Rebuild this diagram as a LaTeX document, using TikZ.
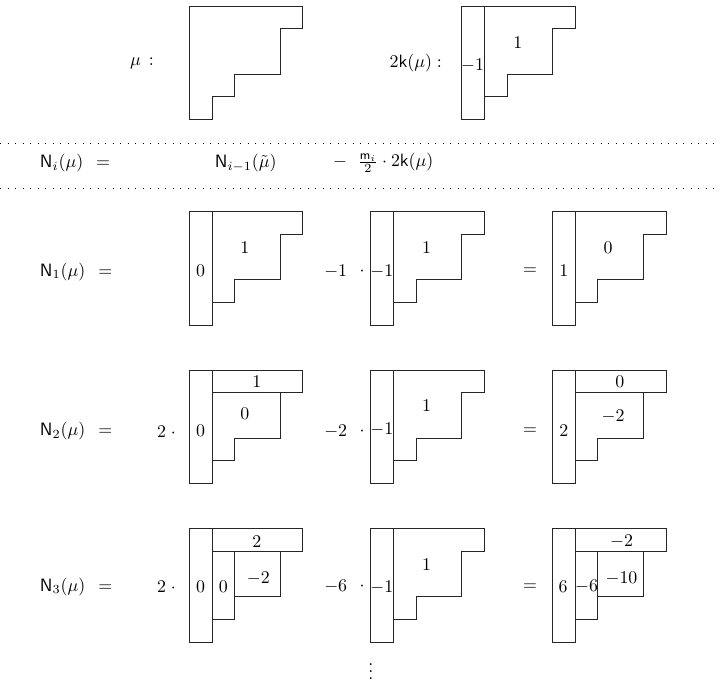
\documentclass[tikz,border=0pt]{standalone}
\usepackage{amsmath}
\tikzset{
  shp/.style={draw=black!85, line width=0.5pt},
  lab/.style={inner sep=0pt, outer sep=0pt},
  dotline/.style={line width=0.55pt, dash pattern=on 0.55pt off 3.65pt},
  youngmu/.pic={
    \draw[shp] (0,0) -- (5,0) -- (5,1) -- (4,1) -- (4,3) -- (2,3) -- (2,4) -- (1,4) -- (1,5) -- (0,5) -- cycle;
  },
  hookA/.pic={
    \draw[shp] (0,0) -- (5,0) -- (5,1) -- (4,1) -- (4,3) -- (2,3) -- (2,4) -- (1,4) -- (1,5) -- (0,5) -- cycle;
    \draw[shp] (1,0) -- (1,5);
  },
  hookB/.pic={
    \draw[shp] (0,0) -- (5,0) -- (5,1) -- (4,1) -- (4,3) -- (2,3) -- (2,4) -- (1,4) -- (1,5) -- (0,5) -- cycle;
    \draw[shp] (1,0) -- (1,5);
    \draw[shp] (1,1) -- (5,1);
  },
  hookC/.pic={
    \draw[shp] (0,0) -- (5,0) -- (5,1) -- (4,1) -- (4,3) -- (2,3) -- (2,4) -- (1,4) -- (1,5) -- (0,5) -- cycle;
    \draw[shp] (1,0) -- (1,5);
    \draw[shp] (1,1) -- (5,1);
    \draw[shp] (2,1) -- (2,4);
  },
}
\begin{document}
\begin{tikzpicture}[x=12.7pt,y=-12.7pt]
\useasboundingbox (0,0) rectangle (31.718,30.044);

% ---------- top line ----------
\node[lab, anchor=east] (mulab) at (6.78,2.78) {$\mu\,:$};
\pic at (8.34,0.27) {youngmu};
\node[lab, anchor=east] (klab) at (19.47,2.78) {$2\mathsf{k}(\mu):$};
\begin{scope}[shift={(20.34,0.27)}]
  \pic {hookA};
  \node[lab] (k0c) at (0.48,2.6) {$-1$};
  \node[lab] (k0i) at (2.47,1.6) {$1$};
\end{scope}

% ---------- header ----------
\coordinate (dl1) at (0,6.31);
\coordinate (dr1) at (31.718,6.31);
\coordinate (dl2) at (0,8.30);
\coordinate (dr2) at (31.718,8.30);
\draw[dotline] (dl1) -- (dr1);
\draw[dotline] (dl2) -- (dr2);
\node[lab, anchor=west] (h1) at (1.76,7.18) {$\mathsf{N}_i(\mu)\hspace{4.5pt}=$};
\node[lab, anchor=west] (h2) at (9.47,7.18) {$\mathsf{N}_{i-1}(\tilde\mu)$};
\node[lab, anchor=west] (h3) at (14.67,7.18) {$-$\hspace{6pt}$\frac{\mathsf{m}_i}{2}\cdot 2\mathsf{k}(\mu)$};

% ---------- row 1 ----------
\node[lab, anchor=west] (r1) at (1.76,11.97) {$\mathsf{N}_1(\mu)\hspace{4.5pt}=$};
\begin{scope}[shift={(8.34,9.32)}]
  \pic {hookA};
  \node[lab] (a1c) at (0.5,2.62) {$0$};
  \node[lab] (a1i) at (2.45,1.58) {$1$};
\end{scope}
\node[lab, anchor=east] (r1m) at (15.29,11.97) {$-1$};
\node[lab] (r1d) at (15.95,11.97) {$\cdot$};
\begin{scope}[shift={(16.34,9.32)}]
  \pic {hookA};
  \node[lab] (b1c) at (0.48,2.62) {$-1$};
  \node[lab] (b1i) at (2.45,1.58) {$1$};
\end{scope}
\node[lab] (r1e) at (23.35,11.97) {$=$};
\begin{scope}[shift={(24.34,9.32)}]
  \pic {hookA};
  \node[lab] (c1c) at (0.5,2.62) {$1$};
  \node[lab] (c1i) at (2.45,1.58) {$0$};
\end{scope}

% ---------- row 2 ----------
\node[lab, anchor=west] (r2) at (1.76,19.0) {$\mathsf{N}_2(\mu)\hspace{4.5pt}=$};
\node[lab, anchor=west] (r2f) at (6.92,19.0) {$2\;\cdot$};
\begin{scope}[shift={(8.34,16.3)}]
  \pic {hookB};
  \node[lab] (a2c) at (0.5,2.68) {$0$};
  \node[lab] (a2t) at (2.97,0.51) {$1$};
  \node[lab] (a2i) at (2.45,1.94) {$0$};
\end{scope}
\node[lab, anchor=east] (r2m) at (15.29,19.0) {$-2$};
\node[lab] (r2d) at (15.95,19.0) {$\cdot$};
\begin{scope}[shift={(16.34,16.3)}]
  \pic {hookA};
  \node[lab] (b2c) at (0.48,2.62) {$-1$};
  \node[lab] (b2i) at (2.45,1.58) {$1$};
\end{scope}
\node[lab] (r2e) at (23.35,19.0) {$=$};
\begin{scope}[shift={(24.34,16.3)}]
  \pic {hookB};
  \node[lab] (c2c) at (0.5,2.69) {$2$};
  \node[lab] (c2t) at (2.97,0.51) {$0$};
  \node[lab] (c2i) at (2.67,2.05) {$-2$};
\end{scope}

% ---------- row 3 ----------
\node[lab, anchor=west] (r3) at (1.76,25.85) {$\mathsf{N}_3(\mu)\hspace{4.5pt}=$};
\node[lab, anchor=west] (r3f) at (6.92,25.85) {$2\;\cdot$};
\begin{scope}[shift={(8.34,23.28)}]
  \pic {hookC};
  \node[lab] (a3c) at (0.5,2.57) {$0$};
  \node[lab] (a3t) at (2.97,0.57) {$2$};
  \node[lab] (a3s) at (1.5,2.57) {$0$};
  \node[lab] (a3i) at (3.04,2.2) {$-2$};
\end{scope}
\node[lab, anchor=east] (r3m) at (15.29,25.85) {$-6$};
\node[lab] (r3d) at (15.95,25.85) {$\cdot$};
\begin{scope}[shift={(16.34,23.28)}]
  \pic {hookA};
  \node[lab] (b3c) at (0.48,2.62) {$-1$};
  \node[lab] (b3i) at (2.45,1.58) {$1$};
\end{scope}
\node[lab] (r3e) at (23.35,25.85) {$=$};
\begin{scope}[shift={(24.34,23.28)}]
  \pic {hookC};
  \node[lab] (c3c) at (0.47,2.57) {$6$};
  \node[lab] (c3t) at (3.04,0.57) {$-2$};
  \node[lab] (c3s) at (1.5,2.57) {$-6$};
  \node[lab] (c3i) at (3.04,2.2) {$-10$};
\end{scope}

\node[lab, anchor=south] (vd) at (16.34,29.95) {$\vdots$};
\end{tikzpicture}
\end{document}
